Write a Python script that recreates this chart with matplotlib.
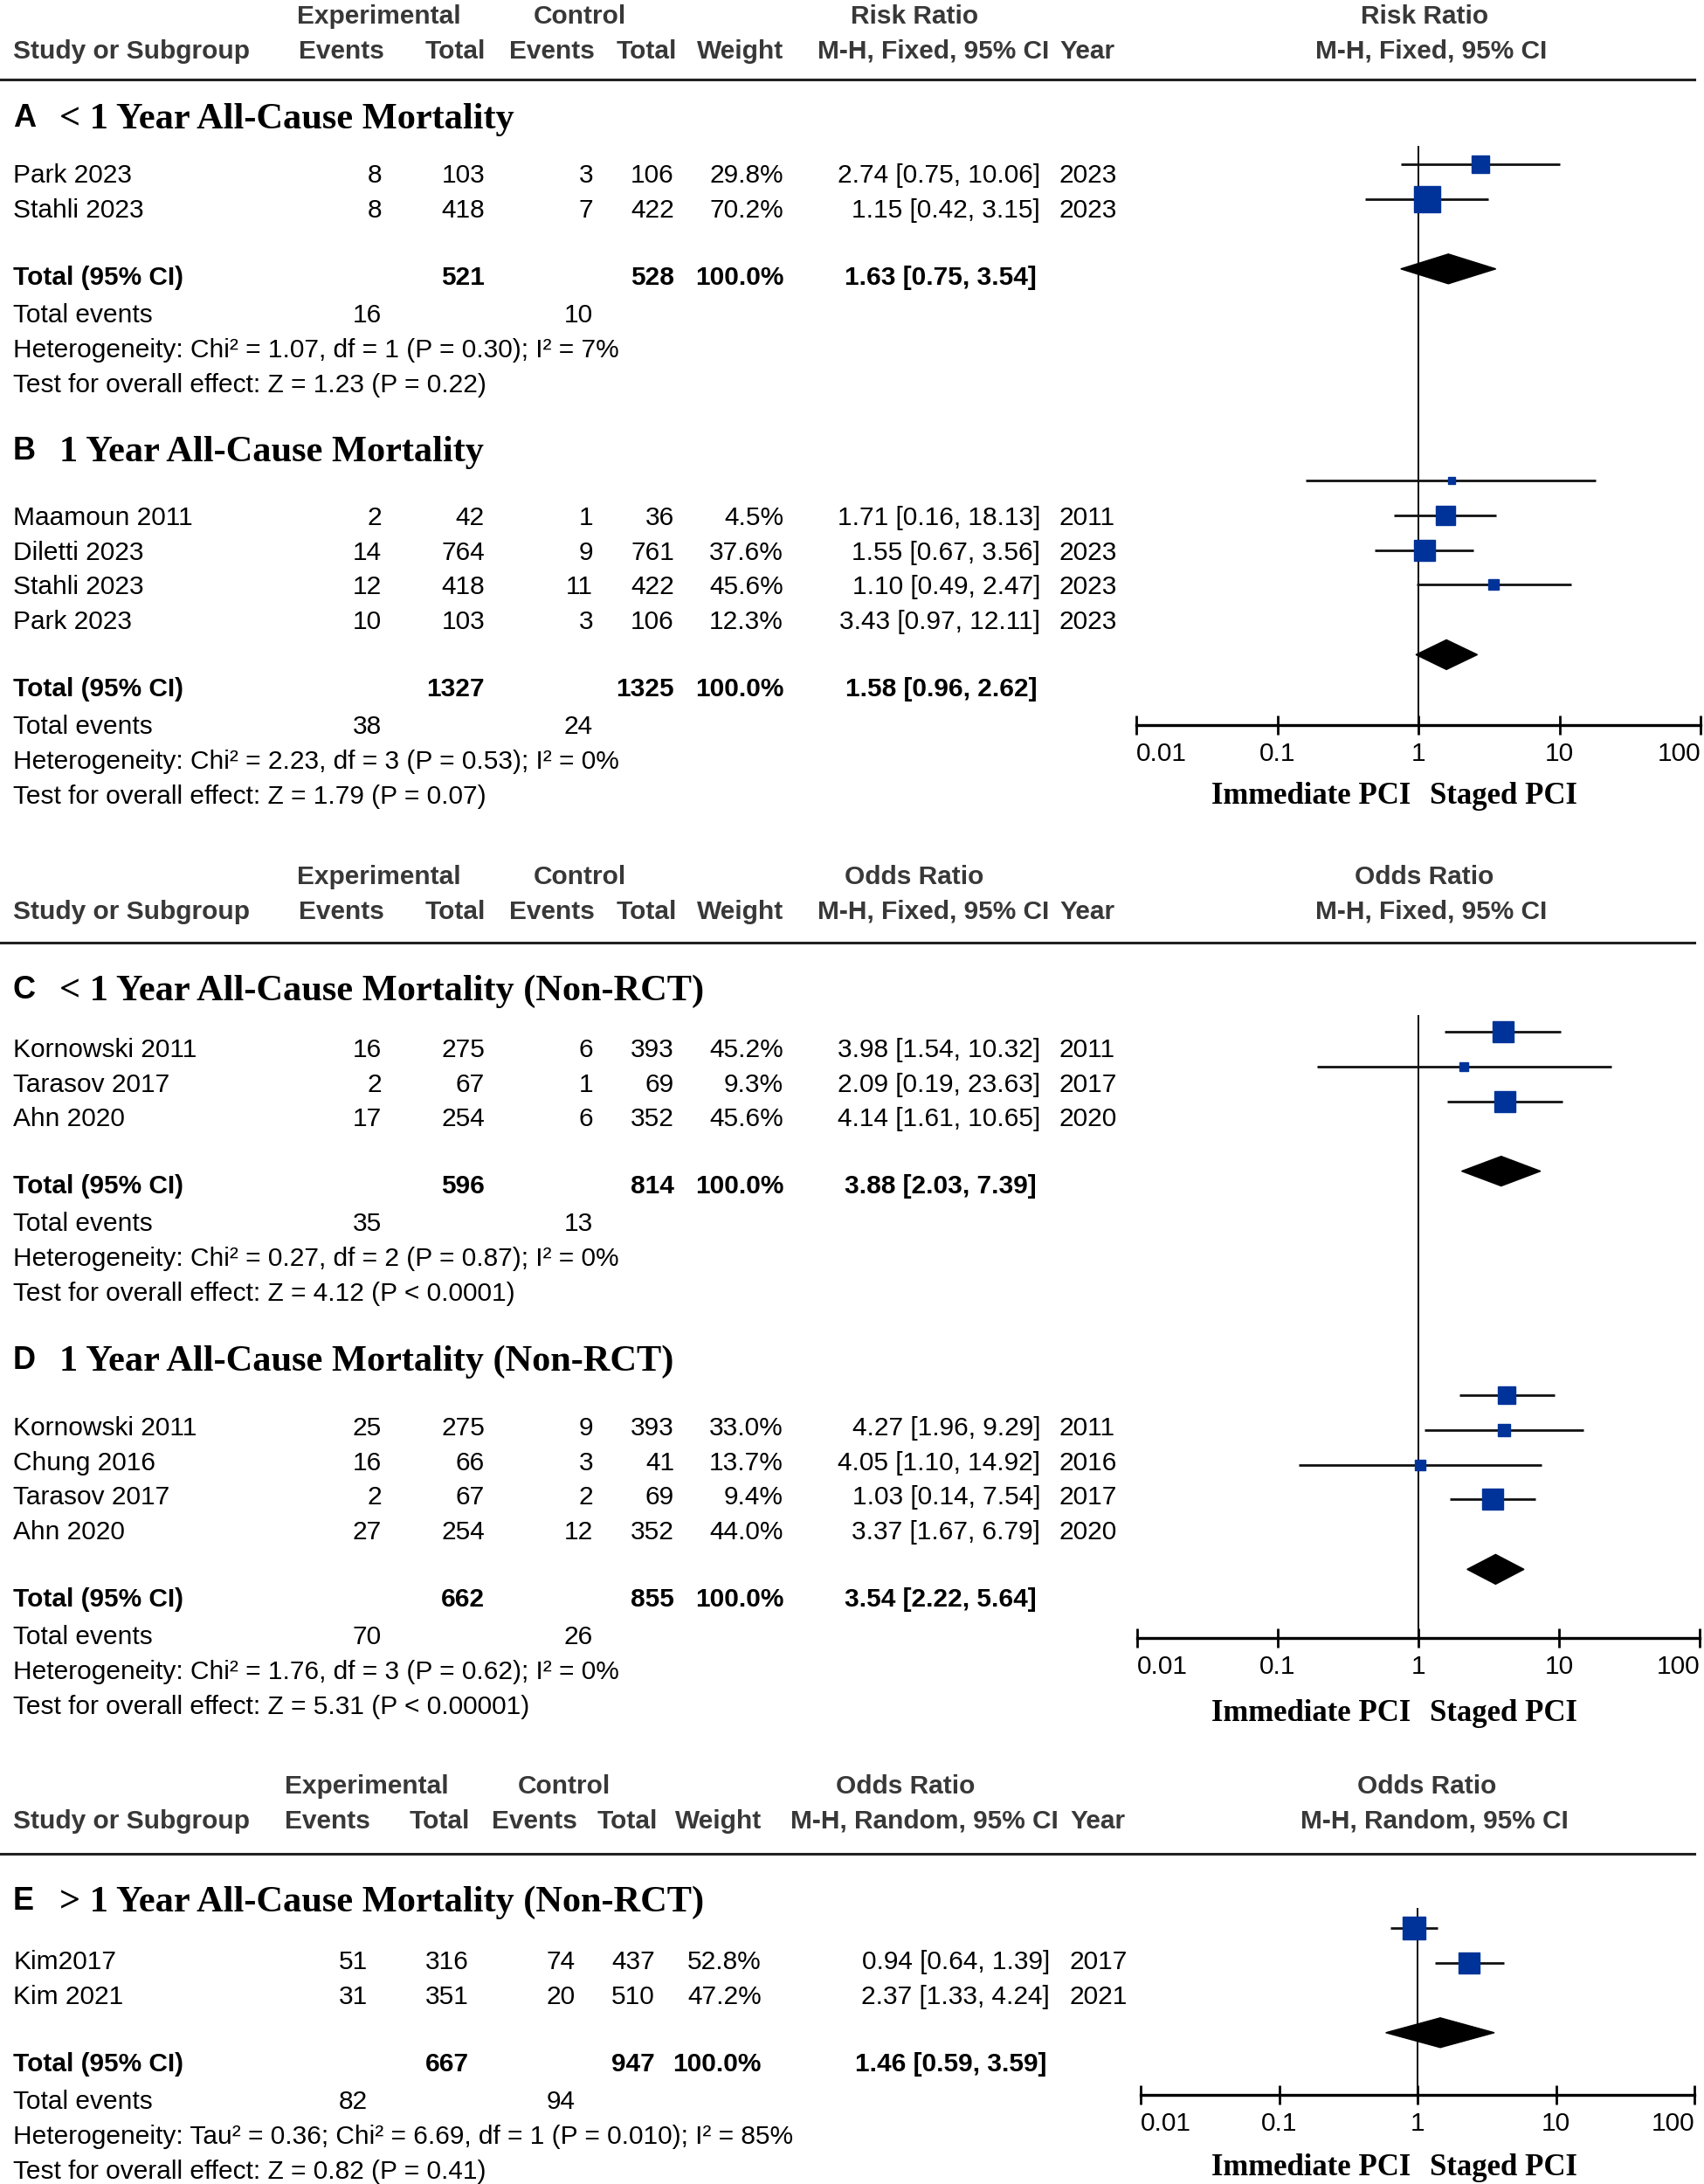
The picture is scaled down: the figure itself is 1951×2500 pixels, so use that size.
import matplotlib.pyplot as plt

plt.rcParams["font.family"] = ["Liberation Sans", "DejaVu Sans"]

# ---------------- data ----------------
# A  < 1 year all-cause mortality (RCT), risk ratio
a_study = ["Park 2023", "Stahli 2023"]
a_exp_ev = [8, 8]
a_exp_n = [103, 418]
a_ctl_ev = [3, 7]
a_ctl_n = [106, 422]
a_weight = [29.8, 70.2]
a_est = [2.74, 1.15]
a_lo = [0.75, 0.42]
a_hi = [10.06, 3.15]
a_year = [2023, 2023]
a_total = [521, 528, 1.63, 0.75, 3.54]
a_events = [16, 10]
a_het = "Heterogeneity: Chi² = 1.07, df = 1 (P = 0.30); I² = 7%"
a_test = "Test for overall effect: Z = 1.23 (P = 0.22)"

# B  1 year all-cause mortality (RCT), risk ratio
b_study = ["Maamoun 2011", "Diletti 2023", "Stahli 2023", "Park 2023"]
b_exp_ev = [2, 14, 12, 10]
b_exp_n = [42, 764, 418, 103]
b_ctl_ev = [1, 9, 11, 3]
b_ctl_n = [36, 761, 422, 106]
b_weight = [4.5, 37.6, 45.6, 12.3]
b_est = [1.71, 1.55, 1.10, 3.43]
b_lo = [0.16, 0.67, 0.49, 0.97]
b_hi = [18.13, 3.56, 2.47, 12.11]
b_year = [2011, 2023, 2023, 2023]
b_total = [1327, 1325, 1.58, 0.96, 2.62]
b_events = [38, 24]
b_het = "Heterogeneity: Chi² = 2.23, df = 3 (P = 0.53); I² = 0%"
b_test = "Test for overall effect: Z = 1.79 (P = 0.07)"

# C  < 1 year all-cause mortality (non-RCT), odds ratio
c_study = ["Kornowski 2011", "Tarasov 2017", "Ahn 2020"]
c_exp_ev = [16, 2, 17]
c_exp_n = [275, 67, 254]
c_ctl_ev = [6, 1, 6]
c_ctl_n = [393, 69, 352]
c_weight = [45.2, 9.3, 45.6]
c_est = [3.98, 2.09, 4.14]
c_lo = [1.54, 0.19, 1.61]
c_hi = [10.32, 23.63, 10.65]
c_year = [2011, 2017, 2020]
c_total = [596, 814, 3.88, 2.03, 7.39]
c_events = [35, 13]
c_het = "Heterogeneity: Chi² = 0.27, df = 2 (P = 0.87); I² = 0%"
c_test = "Test for overall effect: Z = 4.12 (P < 0.0001)"

# D  1 year all-cause mortality (non-RCT), odds ratio
d_study = ["Kornowski 2011", "Chung 2016", "Tarasov 2017", "Ahn 2020"]
d_exp_ev = [25, 16, 2, 27]
d_exp_n = [275, 66, 67, 254]
d_ctl_ev = [9, 3, 2, 12]
d_ctl_n = [393, 41, 69, 352]
d_weight = [33.0, 13.7, 9.4, 44.0]
d_est = [4.27, 4.05, 1.03, 3.37]
d_lo = [1.96, 1.10, 0.14, 1.67]
d_hi = [9.29, 14.92, 7.54, 6.79]
d_year = [2011, 2016, 2017, 2020]
d_total = [662, 855, 3.54, 2.22, 5.64]
d_events = [70, 26]
d_het = "Heterogeneity: Chi² = 1.76, df = 3 (P = 0.62); I² = 0%"
d_test = "Test for overall effect: Z = 5.31 (P < 0.00001)"

# E  > 1 year all-cause mortality (non-RCT), odds ratio, random
e_study = ["Kim2017", "Kim 2021"]
e_exp_ev = [51, 31]
e_exp_n = [316, 351]
e_ctl_ev = [74, 20]
e_ctl_n = [437, 510]
e_weight = [52.8, 47.2]
e_est = [0.94, 2.37]
e_lo = [0.64, 1.33]
e_hi = [1.39, 4.24]
e_year = [2017, 2021]
e_total = [667, 947, 1.46, 0.59, 3.59]
e_events = [82, 94]
e_het = "Heterogeneity: Tau² = 0.36; Chi² = 6.69, df = 1 (P = 0.010); I² = 85%"
e_test = "Test for overall effect: Z = 0.82 (P = 0.41)"

ticks = [0.01, 0.1, 1, 10, 100]
tick_labels = ["0.01", "0.1", "1", "10", "100"]

# ---------------- layout ----------------
W, H = 1951, 2500
PX = 100 / 72
BLUE = "#003399"
HEAD = "#383838"
FS = 21.5
STEP = 39.8

fig = plt.figure(figsize=(W / 100, H / 100), dpi=100)
bg = fig.add_axes([0, 0, 1, 1])
bg.set_xlim(0, W)
bg.set_ylim(H, 0)
bg.axis("off")


def put(x, y, s, size=FS, ha="left", weight="normal", color="black", family=None):
    kw = {"family": family} if family else {}
    bg.text(x, y + 0.36 * size * PX, s, fontsize=size, ha=ha, va="baseline",
            fontweight=weight, color=color, **kw)


def header(y1, y2, rule_y, cols, ratio, method, right_c):
    put(cols["exp_c"], y1, "Experimental", ha="center", weight="bold", color=HEAD)
    put(cols["ctl_c"], y1, "Control", ha="center", weight="bold", color=HEAD)
    put(cols["ratio_c"], y1, ratio, ha="center", weight="bold", color=HEAD)
    put(right_c, y1, ratio, ha="center", weight="bold", color=HEAD)
    put(15, y2, "Study or Subgroup", weight="bold", color=HEAD)
    put(cols["ee"] + 3, y2, "Events", ha="right", weight="bold", color=HEAD)
    put(cols["en"] + 1, y2, "Total", ha="right", weight="bold", color=HEAD)
    put(cols["ce"] + 2, y2, "Events", ha="right", weight="bold", color=HEAD)
    put(cols["cn"] + 3, y2, "Total", ha="right", weight="bold", color=HEAD)
    put(cols["w"], y2, "Weight", ha="right", weight="bold", color=HEAD)
    put(cols["ci"] + 10, y2, method, ha="right", weight="bold", color=HEAD)
    put(cols["yr"], y2, "Year", weight="bold", color=HEAD)
    put(right_c + 8, y2, method, ha="center", weight="bold", color=HEAD)
    bg.plot([0, 1940], [rule_y, rule_y], color="#222222", lw=2.2)


def forest_axes(x0, x1, top, axis_y, label_y):
    ax = fig.add_axes([x0 / W, 1 - axis_y / H, (x1 - x0) / W, (axis_y - top) / H])
    ax.set_xscale("log")
    ax.set_xlim(0.01, 100)
    ax.set_ylim(axis_y, top)
    ax.patch.set_alpha(0)
    for s in ("top", "left", "right"):
        ax.spines[s].set_visible(False)
    ax.spines["bottom"].set_linewidth(2.4)
    ax.set_yticks([])
    ax.set_xticks(ticks)
    ax.set_xticklabels(tick_labels)
    ax.minorticks_off()
    ax.tick_params(axis="x", direction="inout", length=16, width=2, labelsize=FS, pad=6)
    labs = ax.get_xticklabels()
    labs[0].set_ha("left")
    labs[-1].set_ha("right")
    ax.axvline(1, color="black", lw=1.4)
    put(1615, label_y, "Immediate PCI", ha="right", size=25, weight="bold", family="Liberation Serif")
    put(1637, label_y, "Staged PCI", size=25, weight="bold", family="Liberation Serif")
    return ax


def panel(ax, cols, letter, title, title_y, first_y, shift, d):
    put(15, title_y, letter, size=26, weight="bold")
    put(68, title_y, title, size=30.5, weight="bold", family="Liberation Serif")
    n = len(d["study"])
    ys = [first_y + i * STEP for i in range(n)]
    for i, y in enumerate(ys):
        put(15, y, d["study"][i])
        put(cols["ee"], y, str(d["ee"][i]), ha="right")
        put(cols["en"], y, str(d["en"][i]), ha="right")
        put(cols["ce"], y, str(d["ce"][i]), ha="right")
        put(cols["cn"], y, str(d["cn"][i]), ha="right")
        put(cols["w"], y, f"{d['w'][i]:.1f}%", ha="right")
        put(cols["ci"], y, f"{d['est'][i]:.2f} [{d['lo'][i]:.2f}, {d['hi'][i]:.2f}]", ha="right")
        put(cols["yr"], y, str(d["yr"][i]))
        ym = y + shift
        ax.plot([d["lo"][i], d["hi"][i]], [ym, ym], color="#111111", lw=2.0,
                solid_capstyle="butt", clip_on=False)
        side = 3.6 * d["w"][i] ** 0.5
        ax.plot(d["est"][i], ym, marker="s", ms=side * 0.72, color=BLUE, mec=BLUE,
                ls="none", clip_on=False)
    ty = ys[-1] + 77
    tot = d["tot"]
    put(15, ty, "Total (95% CI)", weight="bold")
    put(cols["en"], ty, str(tot[0]), ha="right", weight="bold")
    put(cols["cn"], ty, str(tot[1]), ha="right", weight="bold")
    put(cols["w"], ty, "100.0%", ha="right", weight="bold")
    put(cols["ci"] - 4, ty, f"{tot[2]:.2f} [{tot[3]:.2f}, {tot[4]:.2f}]", ha="right", weight="bold")
    yd = ty + shift + 3
    h = 34
    ax.fill([tot[3], tot[2], tot[4], tot[2]], [yd, yd - h / 2, yd, yd + h / 2],
            color="black", clip_on=False)
    put(15, ty + 43, "Total events")
    put(cols["ee"], ty + 43, str(d["ev"][0]), ha="right")
    put(cols["ce"], ty + 43, str(d["ev"][1]), ha="right")
    put(15, ty + 83, d["het"])
    put(15, ty + 123, d["test"])


cols_ab = dict(ee=437, en=555, ce=679, cn=772, w=897, ci=1191, yr=1213,
               exp_c=434, ctl_c=664, ratio_c=1047)
cols_e = dict(ee=421, en=537, ce=659, cn=750, w=872, ci=1202, yr=1225,
              exp_c=420, ctl_c=646, ratio_c=1037)

panels = {
    "A": dict(study=a_study, ee=a_exp_ev, en=a_exp_n, ce=a_ctl_ev, cn=a_ctl_n, w=a_weight,
              est=a_est, lo=a_lo, hi=a_hi, yr=a_year, tot=a_total, ev=a_events, het=a_het, test=a_test),
    "B": dict(study=b_study, ee=b_exp_ev, en=b_exp_n, ce=b_ctl_ev, cn=b_ctl_n, w=b_weight,
              est=b_est, lo=b_lo, hi=b_hi, yr=b_year, tot=b_total, ev=b_events, het=b_het, test=b_test),
    "C": dict(study=c_study, ee=c_exp_ev, en=c_exp_n, ce=c_ctl_ev, cn=c_ctl_n, w=c_weight,
              est=c_est, lo=c_lo, hi=c_hi, yr=c_year, tot=c_total, ev=c_events, het=c_het, test=c_test),
    "D": dict(study=d_study, ee=d_exp_ev, en=d_exp_n, ce=d_ctl_ev, cn=d_ctl_n, w=d_weight,
              est=d_est, lo=d_lo, hi=d_hi, yr=d_year, tot=d_total, ev=d_events, het=d_het, test=d_test),
    "E": dict(study=e_study, ee=e_exp_ev, en=e_exp_n, ce=e_ctl_ev, cn=e_ctl_n, w=e_weight,
              est=e_est, lo=e_lo, hi=e_hi, yr=e_year, tot=e_total, ev=e_events, het=e_het, test=e_test),
}

# block 1: A + B
header(16, 56, 91, cols_ab, "Risk Ratio", "M-H, Fixed, 95% CI", 1631)
ax1 = forest_axes(1301, 1947, 167, 830, 908)
panel(ax1, cols_ab, "A", "< 1 Year All-Cause Mortality", 132, 198, -10, panels["A"])
panel(ax1, cols_ab, "B", "1 Year All-Cause Mortality", 513, 590, -40, panels["B"])

# block 2: C + D
header(1001, 1041, 1079, cols_ab, "Odds Ratio", "M-H, Fixed, 95% CI", 1631)
ax2 = forest_axes(1302, 1946, 1162, 1875, 1957)
panel(ax2, cols_ab, "C", "< 1 Year All-Cause Mortality (Non-RCT)", 1130, 1199, -18, panels["C"])
panel(ax2, cols_ab, "D", "1 Year All-Cause Mortality (Non-RCT)", 1554, 1632, -35, panels["D"])

# block 3: E
header(2042, 2082, 2122, cols_e, "Odds Ratio", "M-H, Random, 95% CI", 1634)
ax3 = forest_axes(1306, 1940, 2184, 2398, 2478)
panel(ax3, cols_e, "E", "> 1 Year All-Cause Mortality (Non-RCT)", 2173, 2243, -36, panels["E"])

fig.savefig("out.png", dpi=100, facecolor="white")
